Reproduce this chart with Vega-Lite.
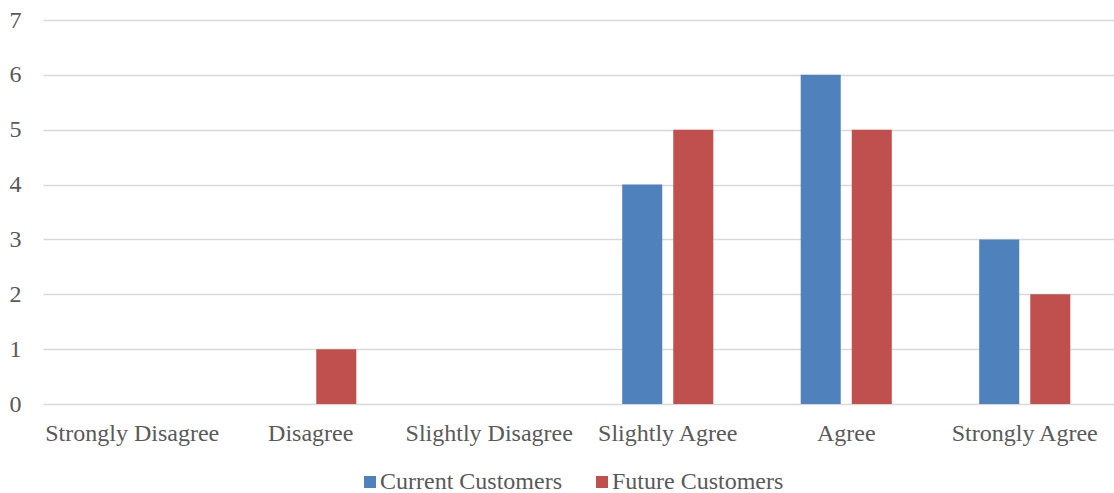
{
  "$schema": "https://vega.github.io/schema/vega-lite/v6.json",
  "width": 1071,
  "height": 384,
  "autosize": {"type": "none"},
  "padding": {"left": 43, "top": 20, "right": 0, "bottom": 89},
  "background": "white",
  "config": {
    "font": "Liberation Serif",
    "view": {"stroke": null}
  },
  "data": {
    "values": [
      {"category": "Strongly Disagree", "series": "Current Customers", "value": 0},
      {"category": "Strongly Disagree", "series": "Future Customers", "value": 0},
      {"category": "Disagree", "series": "Current Customers", "value": 0},
      {"category": "Disagree", "series": "Future Customers", "value": 1},
      {"category": "Slightly Disagree", "series": "Current Customers", "value": 0},
      {"category": "Slightly Disagree", "series": "Future Customers", "value": 0},
      {"category": "Slightly Agree", "series": "Current Customers", "value": 4},
      {"category": "Slightly Agree", "series": "Future Customers", "value": 5},
      {"category": "Agree", "series": "Current Customers", "value": 6},
      {"category": "Agree", "series": "Future Customers", "value": 5},
      {"category": "Strongly Agree", "series": "Current Customers", "value": 3},
      {"category": "Strongly Agree", "series": "Future Customers", "value": 2}
    ]
  },
  "mark": {"type": "bar"},
  "encoding": {
    "x": {
      "field": "category",
      "type": "nominal",
      "sort": ["Strongly Disagree", "Disagree", "Slightly Disagree", "Slightly Agree", "Agree", "Strongly Agree"],
      "scale": {"paddingInner": 0, "paddingOuter": 0},
      "axis": {
        "title": null,
        "labelAngle": 0,
        "ticks": false,
        "domain": false,
        "labelPadding": 17,
        "labelFontSize": 24,
        "labelColor": "#595959",
        "labelFont": "Liberation Serif"
      }
    },
    "xOffset": {
      "field": "series",
      "type": "nominal",
      "sort": ["Current Customers", "Future Customers"],
      "scale": {"paddingInner": 0.216, "paddingOuter": 0.856}
    },
    "y": {
      "field": "value",
      "type": "quantitative",
      "scale": {"domain": [0, 7], "nice": false},
      "axis": {
        "title": null,
        "values": [0, 1, 2, 3, 4, 5, 6, 7],
        "ticks": false,
        "domain": false,
        "grid": true,
        "gridColor": "#d9d9d9",
        "gridWidth": 1.5,
        "labelPadding": 22,
        "labelFontSize": 24,
        "labelColor": "#595959",
        "labelFont": "Liberation Serif"
      }
    },
    "color": {
      "field": "series",
      "type": "nominal",
      "sort": ["Current Customers", "Future Customers"],
      "scale": {"domain": ["Current Customers", "Future Customers"], "range": ["#4f81bd", "#c0504d"]},
      "legend": {
        "title": null,
        "orient": "none",
        "direction": "horizontal",
        "legendX": 315,
        "legendY": 450,
        "symbolType": "square",
        "symbolSize": 144,
        "symbolStrokeWidth": 0,
        "labelFontSize": 24,
        "labelColor": "#595959",
        "labelFont": "Liberation Serif",
        "labelOffset": -2,
        "columnPadding": 28,
        "labelLimit": 400
      }
    }
  }
}
